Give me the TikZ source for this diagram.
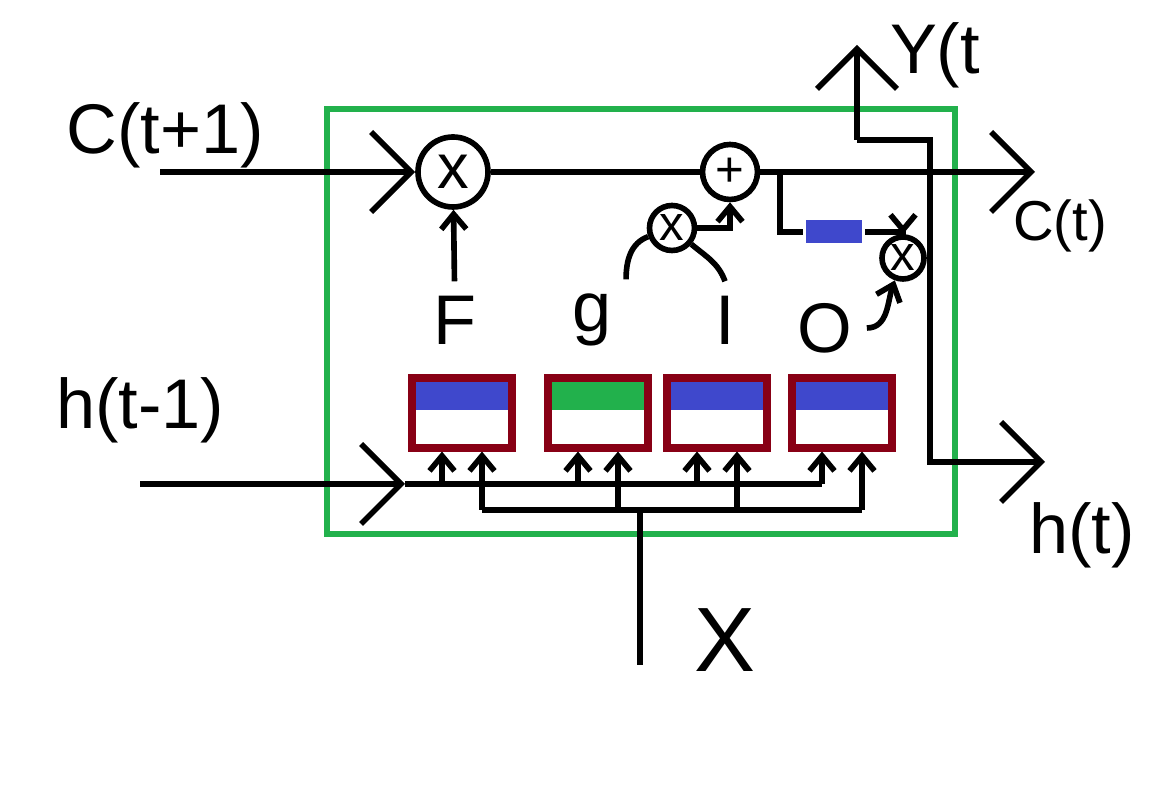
\documentclass[tikz,border=0pt]{standalone}
\usepackage{fontspec}
\setmainfont{Liberation Sans}
\usetikzlibrary{arrows.meta}
\definecolor{cellgreen}{HTML}{22B14C}
\definecolor{gateblue}{HTML}{3F48CC}
\definecolor{gatered}{HTML}{880015}

\begin{document}
\begin{tikzpicture}[
  line width=1.6pt,
  big/.style={-{Straight Barb[length=4mm,width=8mm]}},
  small/.style={-{Straight Barb[length=1.5mm,width=2.5mm]}},
  lbl/.style={font=\fontsize{20}{24}\selectfont},
  op/.style={draw,circle,inner sep=0pt,font=\fontsize{14}{16}\selectfont},
  gate/.style={draw=gatered,line width=2pt,minimum width=1cm,minimum height=7mm,
    path picture={\fill[#1] (path picture bounding box.north west)
      rectangle ([yshift=-3.2mm]path picture bounding box.north east);}},
  ]
  \useasboundingbox (0,0) rectangle (11.51,7.94);
  \draw[cellgreen,line width=1.5pt] (3.27,2.60) rectangle (9.55,6.85);

  % cell state
  \node[op,minimum size=7mm,font=\fontsize{18}{20}\selectfont] (mulF) at (4.53,6.22) {x};
  \node[op,minimum size=5.5mm] (add) at (7.30,6.22) {+};
  \node[op,minimum size=4.5mm] (mulI) at (6.72,5.66) {x};
  \node[op,minimum size=4.2mm] (mulO) at (9.03,5.36) {x};
  \node[fill=gateblue,minimum width=5.6mm,minimum height=2.3mm,inner sep=0pt] (tanh) at (8.34,5.62) {};
  \node[lbl] (cprev) at (1.65,6.59) {C(t+1)};
  \node[lbl,font=\fontsize{16}{20}\selectfont] (cnext) at (10.60,5.68) {C(t)};
  \coordinate (cstart) at (1.60,6.22);
  \coordinate (cout) at (10.35,6.22);
  \coordinate (br) at (7.80,6.22);
  \draw[big] (cstart) -- (mulF);
  \draw (mulF) -- (add);
  \draw[big] (add) -- (cout);
  \draw (br) |- (tanh.west);
  \draw[small] (tanh.east) -| (mulO.north);

  % outputs
  \node[lbl] (ytext) at (9.35,7.39) {Y(t};
  \node[lbl] (hnext) at (10.82,2.59) {h(t)};
  \coordinate (yfoot) at (8.57,6.54);
  \coordinate (ytop) at (8.57,7.49);
  \coordinate (hj) at (9.30,5.36);
  \coordinate (hout) at (10.45,3.32);
  \draw[big] (yfoot) -- (ytop);
  \draw (mulO) -- (hj);
  \draw (yfoot) -| (hj);
  \draw[big] (hj) |- (hout);

  % gates
  \foreach \n/\x/\c in {F/4.62/gateblue,g/5.98/cellgreen,I/7.17/gateblue,O/8.42/gateblue}
    \node[gate=\c] (box\n) at (\x,3.81) {};
  \node[lbl] (lblF) at (4.55,4.74) {F};
  \node[lbl] (lblg) at (5.92,4.74) {g};
  \node[lbl] (lblI) at (7.25,4.74) {I};
  \node[lbl] (lblO) at (8.25,4.66) {O};
  \draw[small] (lblF) -- (mulF);
  \draw (lblg.north east) to[out=90,in=200] (mulI);
  \draw (lblI.north) to[out=110,in=-40] (mulI);
  \draw[small] (mulI) -| (add);
  \draw[small] (lblO) to[out=0,in=-110] (mulO);

  % inputs
  \node[lbl] (hprev) at (1.40,3.84) {h(t-1)};
  \node[lbl,font=\fontsize{26}{30}\selectfont] (xtext) at (7.25,1.54) {X};
  \coordinate (hstart) at (1.40,3.10);
  \coordinate (hin) at (4.05,3.10);
  \coordinate (hend) at (8.22,3.10);
  \coordinate (xstart) at (6.40,1.29);
  \coordinate (xin) at (6.40,2.84);
  \coordinate (xl) at (4.82,2.84);
  \coordinate (xr) at (8.62,2.84);
  \draw[big] (hstart) -- (hin);
  \draw (hin) -- (hend);
  \draw (xstart) -- (xin);
  \draw (xl) -- (xr);
  \foreach \n in {F,g,I,O} {
    \draw[small] ([xshift=-2mm]box\n.south |- hin) -- ([xshift=-2mm]box\n.south);
    \draw[small] ([xshift=2mm]box\n.south |- xin) -- ([xshift=2mm]box\n.south);
  }
\end{tikzpicture}
\end{document}
